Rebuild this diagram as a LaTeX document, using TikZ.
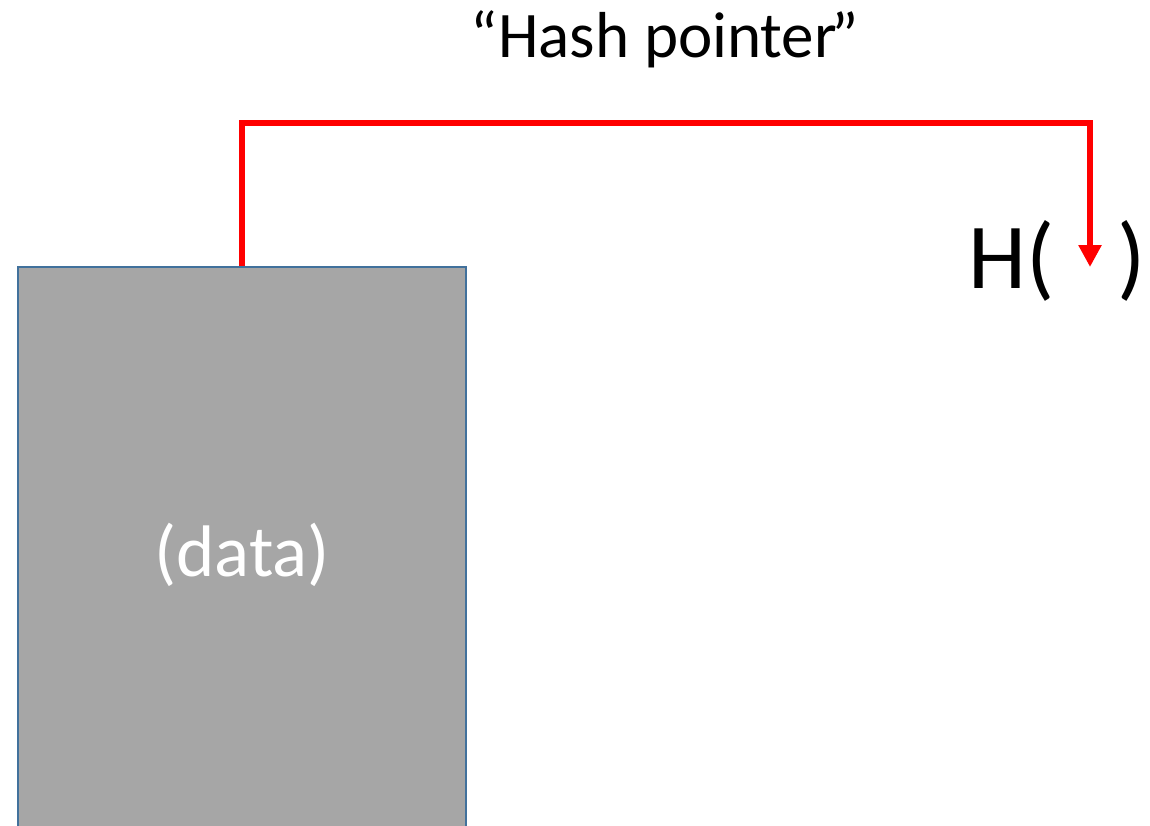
\documentclass[tikz,border=0pt]{standalone}
\usepackage{fontspec}
\setmainfont{Carlito}
\usetikzlibrary{arrows.meta}
\definecolor{boxgray}{HTML}{A6A6A6}
\definecolor{boxedge}{HTML}{41719C}
\definecolor{ptrred}{HTML}{FF0000}
\begin{document}
\begin{tikzpicture}[x=1pt,y=1pt,
  databox/.style={draw=boxedge, fill=boxgray, line width=2pt, minimum width=448pt, minimum height=576pt, inner sep=0pt,
    text=white, font=\fontsize{73}{86}\selectfont},
  ptr/.style={draw=ptrred, line width=6pt, -{Triangle[width=22pt,length=22pt]}},
  hashtext/.style={font=\fontsize{93}{110}\selectfont, inner sep=0pt, anchor=base west},
  title/.style={font=\fontsize{65}{78}\selectfont, inner sep=0pt, anchor=base}]
\useasboundingbox (0,0) rectangle (1150,-825);
\node[databox] (data) at (242,-555) {(data)};
\node[title] (ttl) at (665,-57) {“Hash pointer\kern-0.08em”};
\node[hashtext] (hopen) at (968,-288) {H(};
\node[hashtext] (hclose) at (1117,-288) {)};
\coordinate (tip) at (1090,-267);
\draw[ptr] (data.north) |- (1090,-123) -- (tip);
\end{tikzpicture}
\end{document}
